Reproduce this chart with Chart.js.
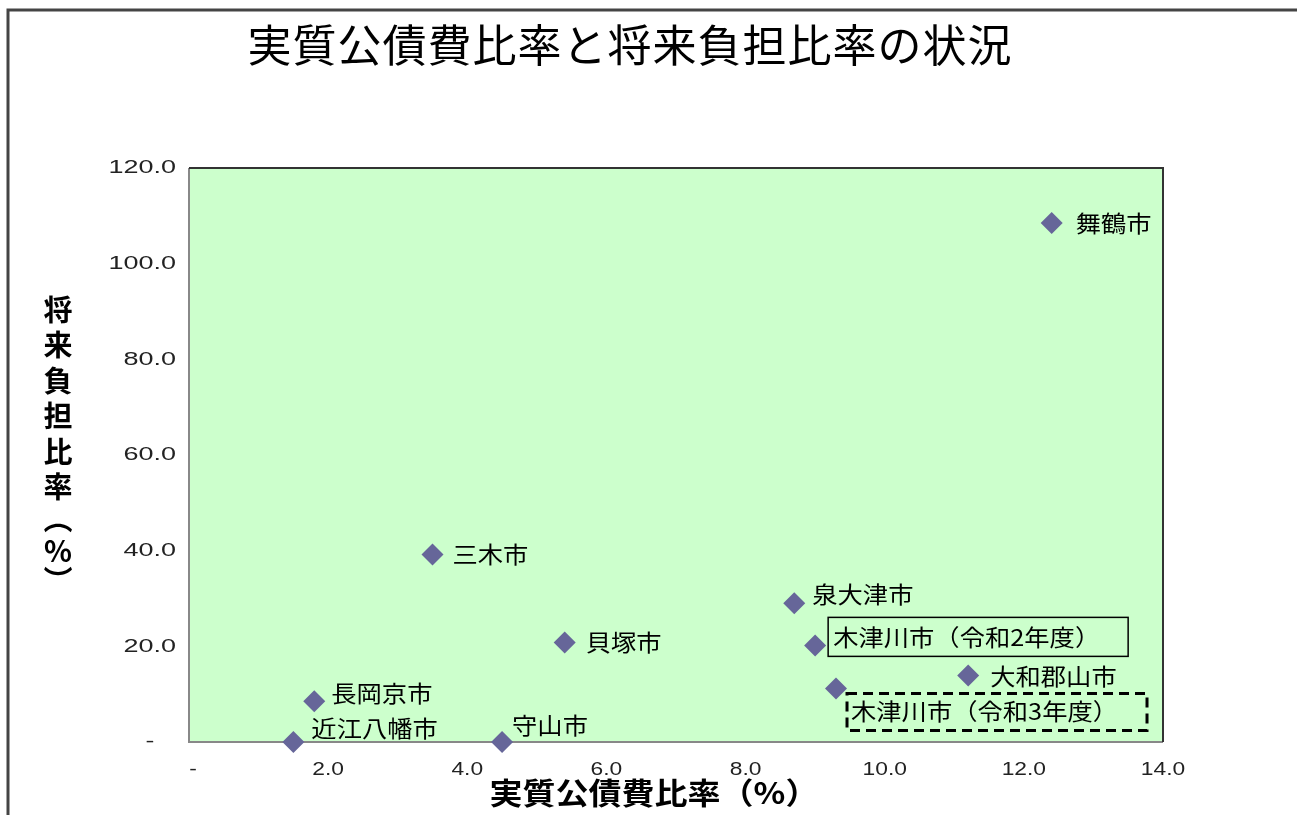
<!DOCTYPE html>
<html><head><meta charset="utf-8">
<script src="https://cdn.jsdelivr.net/npm/chart.js@4"></script>
<style>html,body{margin:0;padding:0;background:#fff}#wrap{width:1297px;height:815px}</style>
</head><body><div id="wrap"><canvas id="c" width="1297" height="815"></canvas></div>
<script>
// ---- data ----
const cities = ['舞鶴市','三木市','貝塚市','泉大津市','木津川市（令和2年度）','大和郡山市','木津川市（令和3年度）','長岡京市','近江八幡市','守山市'];
const realDebtServiceRatio = [12.4, 3.5, 5.4, 8.7, 9.0, 11.2, 9.3, 1.8, 1.5, 4.5];
const futureBurdenRatio = [108.5, 39.2, 20.8, 29.0, 20.2, 13.9, 11.2, 8.5, 0.0, 0.0];
const xTickValues = [0, 2, 4, 6, 8, 10, 12, 14];
const yTickValues = [0, 20, 40, 60, 80, 100, 120];
const chartTitle = '実質公債費比率と将来負担比率の状況';
const xAxisTitle = '実質公債費比率（%）';
const yAxisTitle = ['将','来','負','担','比','率','（','%','）'];

// ---- style (label placement relative to point) ----
const labelOffsets = [[24,0],[20,0],[21,0],[18,-9],[18,-8],[22,1],[15,23],[17,-8],[18,-14],[10,-17]];
const labelBoxes = {4: {dx:-5, dy:-20, w:300, h:39, dash:[], lw:1.5},
                    6: {dx:-4, dy:-18, w:300, h:37, dash:[10,6], lw:3}};
const CJK = '"Noto Sans CJK JP", "Noto Sans CJK SC", sans-serif';
const NUM = '"Liberation Sans", Arial, sans-serif';
const fmt = v => v === 0 ? '-' : v.toFixed(1);

const points = realDebtServiceRatio.map((x, i) => ({x, y: futureBurdenRatio[i]}));

function wideText(ctx, text, x, y, sx, align) {
  ctx.save();
  ctx.translate(x, y);
  ctx.scale(sx, 1);
  ctx.textAlign = align;
  ctx.fillText(text, 0, 0);
  ctx.restore();
}

const decor = {
  id: 'decor',
  beforeDraw(chart) {
    const ctx = chart.ctx;
    ctx.save();
    ctx.fillStyle = '#fff';
    ctx.fillRect(0, 0, chart.width, chart.height);
    // outer frame
    ctx.strokeStyle = '#444';
    ctx.lineWidth = 3;
    ctx.beginPath();
    ctx.moveTo(8, chart.height + 5); ctx.lineTo(8, 10); ctx.lineTo(chart.width + 5, 10);
    ctx.stroke();
    // title
    ctx.fillStyle = '#000';
    ctx.font = '44px ' + CJK;
    ctx.textBaseline = 'middle';
    ctx.letterSpacing = '1px';
    wideText(ctx, chartTitle, 630, 45, 1, 'center');
    ctx.letterSpacing = '0px';
    // x title
    ctx.font = 'bold 30px ' + CJK;
    wideText(ctx, xAxisTitle, 654, 793, 1.1, 'center');
    // y title vertical
    ctx.font = 'bold 29px ' + CJK;
    ctx.textAlign = 'center';
    const ys = [310, 345, 381, 416, 452, 487, 519, 551, 580];
    yAxisTitle.forEach((ch, i) => {
      if (ch === '（' || ch === '）') {
        ctx.save();
        ctx.translate(58, ys[i]);
        ctx.rotate(Math.PI / 2);
        ctx.fillText(ch, 0, 0);
        ctx.restore();
      } else {
        ctx.fillText(ch, 58, ys[i]);
      }
    });
    ctx.restore();
  },
  beforeDatasetsDraw(chart) {
    const {ctx, chartArea: a} = chart;
    ctx.save();
    ctx.fillStyle = '#CCFFCC';
    ctx.fillRect(a.left, a.top, a.right - a.left, a.bottom - a.top);
    ctx.lineWidth = 2;
    ctx.strokeStyle = '#888';
    ctx.beginPath();
    ctx.moveTo(a.left, a.top); ctx.lineTo(a.left, a.bottom); ctx.lineTo(a.right, a.bottom);
    ctx.stroke();
    ctx.strokeStyle = '#333';
    ctx.beginPath();
    ctx.moveTo(a.left, a.top); ctx.lineTo(a.right, a.top); ctx.lineTo(a.right, a.bottom);
    ctx.stroke();
    // tick labels (horizontally stretched like the reference)
    ctx.fillStyle = '#222';
    ctx.font = '19px ' + NUM;
    ctx.textBaseline = 'middle';
    const xs = chart.scales.x, ysc = chart.scales.y;
    xs.ticks.forEach(t => {
      const px = xs.getPixelForValue(t.value);
      const lbl = fmt(t.value);
      wideText(ctx, lbl, lbl === '-' ? px + 4 : px, a.bottom + 28, 1.2, 'center');
    });
    ysc.ticks.forEach(t => {
      const py = ysc.getPixelForValue(t.value);
      const lbl = fmt(t.value);
      if (lbl === '-') wideText(ctx, lbl, a.left - 39, py, 1.4, 'center');
      else wideText(ctx, lbl, a.left - 13, py, 1.42, 'right');
    });
    ctx.restore();
  },
  afterDatasetsDraw(chart) {
    const ctx = chart.ctx;
    const meta = chart.getDatasetMeta(0);
    ctx.save();
    ctx.font = '23px ' + CJK;
    ctx.fillStyle = '#000';
    ctx.textBaseline = 'middle';
    meta.data.forEach((el, i) => {
      const tx = el.x + labelOffsets[i][0];
      const ty = el.y + labelOffsets[i][1];
      wideText(ctx, cities[i], tx, ty, 1.1, 'left');
      const b = labelBoxes[i];
      if (b) {
        ctx.save();
        ctx.strokeStyle = '#000';
        ctx.lineWidth = b.lw;
        ctx.setLineDash(b.dash);
        ctx.strokeRect(tx + b.dx, ty + b.dy, b.w, b.h);
        ctx.restore();
      }
    });
    ctx.restore();
  }
};

new Chart(document.getElementById('c'), {
  type: 'scatter',
  data: {
    datasets: [{
      data: points,
      pointStyle: 'rectRot',
      pointRadius: 11,
      pointHoverRadius: 11,
      backgroundColor: '#666699',
      borderColor: '#666699',
      borderWidth: 0,
      clip: false
    }]
  },
  options: {
    responsive: false,
    animation: false,
    devicePixelRatio: 1,
    layout: {padding: {left: 0, top: 168, right: 134, bottom: 0}},
    plugins: {legend: {display: false}, title: {display: false}, tooltip: {enabled: false}},
    scales: {
      x: {
        type: 'linear', min: 0, max: 14,
        afterFit(s) { s.height = 73; },
        afterBuildTicks(s) { s.ticks = xTickValues.map(v => ({value: v})); },
        grid: {display: false, drawTicks: false},
        border: {display: false},
        ticks: {display: false, callback: fmt}
      },
      y: {
        type: 'linear', min: 0, max: 120,
        afterFit(s) { s.width = 189; },
        afterBuildTicks(s) { s.ticks = yTickValues.map(v => ({value: v})); },
        grid: {display: false, drawTicks: false},
        border: {display: false},
        ticks: {display: false, callback: fmt}
      }
    }
  },
  plugins: [decor]
});
</script>
</body></html>
